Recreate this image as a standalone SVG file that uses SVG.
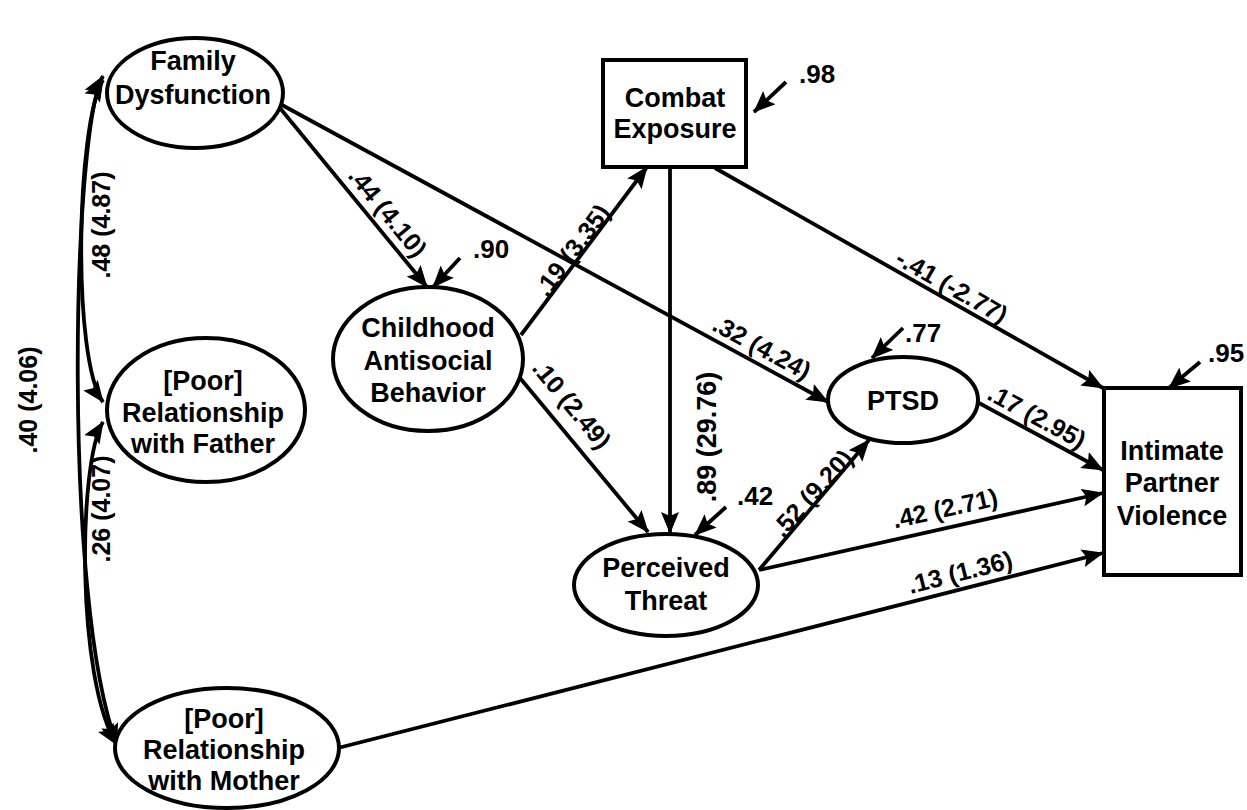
<svg xmlns="http://www.w3.org/2000/svg" width="1247" height="810" viewBox="0 0 1247 810">
<defs>
<marker id="ah" markerUnits="userSpaceOnUse" markerWidth="24" markerHeight="20" refX="21" refY="9" orient="auto-start-reverse">
<path d="M0,0 L22,9 L0,18 L4,9 z" fill="#000"/>
</marker>
<style>
.n{fill:#fff;stroke:#000;stroke-width:4}
.t{font-family:"Liberation Sans",Arial,sans-serif;font-weight:bold;font-size:27px;fill:#000;text-anchor:middle}
.l{font-family:"Liberation Sans",Arial,sans-serif;font-weight:bold;font-size:25px;fill:#000;text-anchor:middle}
.r{font-family:"Liberation Sans",Arial,sans-serif;font-weight:bold;font-size:26px;fill:#000}
.c{fill:none;stroke:#000;stroke-width:3.8;marker-end:url(#ah)}
.b{fill:none;stroke:#000;stroke-width:3.8;marker-end:url(#ah);marker-start:url(#ah)}
</style>
</defs>
<rect width="1247" height="810" fill="#fff"/>
<g id="connectors">
<path class="b" d="M103,76 C72,130 62,600 117,745"/>
<path class="b" d="M103,80 C76,125 72,360 103,402"/>
<path class="b" d="M103,422 C78,462 76,680 117,745"/>
<path class="c" d="M275,102 L427,287"/>
<path class="c" d="M282,105 L828,402"/>
<path class="c" d="M521,335 L647,167"/>
<path class="c" d="M520,378 L648,532"/>
<path class="c" d="M670,167 L670,533"/>
<path class="c" d="M715,168 L1103,388"/>
<path class="c" d="M979,403 L1103,470"/>
<path class="c" d="M759,570 L869,440"/>
<path class="c" d="M759,570 L1103,493"/>
<path class="c" d="M338,748 L1103,553"/>
<path class="c" d="M460,258 L433,287"/>
<path class="c" d="M786,82 L754,112"/>
<path class="c" d="M903,328 L872,358"/>
<path class="c" d="M1200,362 L1169,388"/>
<path class="c" d="M726,507 L695,535"/>
</g>
<g id="labels">
<text class="l" transform="translate(388,212) rotate(50.6)" y="9">.44 (4.10)</text>
<text class="l" transform="translate(762,347) rotate(28.5)" y="9">.32 (4.24)</text>
<text class="l" transform="translate(572,250) rotate(-53.1)" y="9">.19 (3.35)</text>
<text class="l" transform="translate(572,404) rotate(50.3)" y="9">.10 (2.49)</text>
<text class="l" transform="translate(707,437) rotate(-90)" y="9" style="font-size:27px">.89 (29.76)</text>
<text class="l" transform="translate(952,286) rotate(29.6)" y="9">-.41 (-2.77)</text>
<text class="l" transform="translate(1037,416) rotate(28.4)" y="9">.17 (2.95)</text>
<text class="l" transform="translate(812,493) rotate(-48)" y="9">.52 (9.20)</text>
<text class="l" transform="translate(945,508) rotate(-12.6)" y="9">.42 (2.71)</text>
<text class="l" transform="translate(960,572) rotate(-14.3)" y="9">.13 (1.36)</text>
<text class="l" transform="translate(101,225) rotate(-90)" y="9">.48 (4.87)</text>
<text class="l" transform="translate(101,509) rotate(-90)" y="9">.26 (4.07)</text>
<text class="l" transform="translate(28,400) rotate(-90)" y="9">.40 (4.06)</text>
<text class="r" x="473" y="258">.90</text>
<text class="r" x="799" y="83">.98</text>
<text class="r" x="905" y="342">.77</text>
<text class="r" x="1208" y="362">.95</text>
<text class="r" x="737" y="505">.42</text>
</g>
<g id="family-dysfunction">
<ellipse class="n" cx="195" cy="93" rx="88" ry="55"/>
<text class="t" x="193" y="70">Family</text>
<text class="t" x="193" y="104">Dysfunction</text>
</g>
<g id="relationship-father">
<ellipse class="n" cx="206" cy="410" rx="99" ry="72"/>
<text class="t" x="203" y="390">[Poor]</text>
<text class="t" x="203" y="422">Relationship</text>
<text class="t" x="203" y="453">with Father</text>
</g>
<g id="relationship-mother">
<ellipse class="n" cx="227" cy="748" rx="112" ry="60"/>
<text class="t" x="224" y="728">[Poor]</text>
<text class="t" x="224" y="759">Relationship</text>
<text class="t" x="224" y="790">with Mother</text>
</g>
<g id="childhood-antisocial">
<ellipse class="n" cx="428" cy="359" rx="95" ry="72"/>
<text class="t" x="428" y="337">Childhood</text>
<text class="t" x="428" y="370">Antisocial</text>
<text class="t" x="428" y="402">Behavior</text>
</g>
<g id="combat-exposure">
<rect class="n" x="603" y="60" width="143" height="107"/>
<text class="t" x="675" y="107">Combat</text>
<text class="t" x="675" y="138">Exposure</text>
</g>
<g id="ptsd">
<ellipse class="n" cx="903" cy="400" rx="75" ry="43"/>
<text class="t" x="903" y="410">PTSD</text>
</g>
<g id="perceived-threat">
<ellipse class="n" cx="666" cy="585" rx="92" ry="51"/>
<text class="t" x="666" y="577">Perceived</text>
<text class="t" x="666" y="610">Threat</text>
</g>
<g id="intimate-partner-violence">
<rect class="n" x="1104" y="388" width="137" height="187"/>
<text class="t" x="1172" y="460">Intimate</text>
<text class="t" x="1172" y="492">Partner</text>
<text class="t" x="1172" y="525">Violence</text>
</g>
</svg>
